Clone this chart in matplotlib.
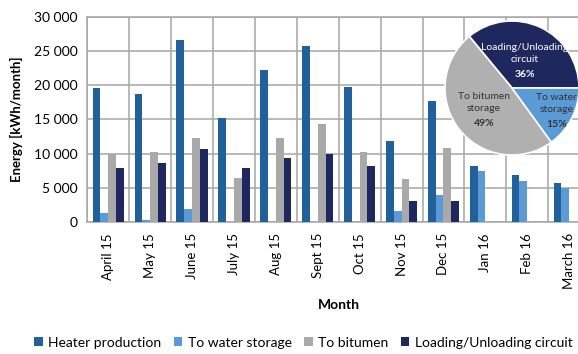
import numpy as np
import matplotlib
matplotlib.use("Agg")
import matplotlib.pyplot as plt
from matplotlib.ticker import FuncFormatter

plt.rcParams['font.family'] = ['Lato', 'DejaVu Sans']

meses = ['April 15', 'May 15', 'June 15', 'July 15', 'Aug 15', 'Sept 15',
         'Oct 15', 'Nov 15', 'Dec 15', 'Jan 16', 'Feb 16', 'March 16']

heater = [19600, 18800, 26600, 15200, 22250, 25770, 19700, 11800, 17700, 8250, 6800, 5700]
water = [1300, 300, 1850, 0, 0, 0, 0, 1650, 3950, 7400, 6000, 4900]
bitumen = [10000, 10200, 12250, 6500, 12350, 14300, 10300, 6350, 10800, 0, 0, 0]
loading = [7900, 8600, 10650, 7950, 9300, 9900, 8250, 3000, 3000, 0, 0, 0]

series = ['Heater production', 'To water storage', 'To bitumen', 'Loading/Unloading circuit']
colores = ['#22609b', '#5b9bd5', '#a9a9a9', '#1e275e']

# Reparto anual (pie)
pie_labels = ['Loading/Unloading\ncircuit', 'To bitumen\nstorage', 'To water\nstorage']
pie_pct = [36, 49, 15]
pie_colores = ['#1e275e', '#b0b0b0', '#5b9bd5']

fig = plt.figure(figsize=(5.78, 3.54), dpi=100)
ax = fig.add_axes([0.151, 0.373, 0.870, 0.579])

x = np.arange(len(meses))
w = 0.186
for i, (datos, nombre, c) in enumerate(zip([heater, water, bitumen, loading], series, colores)):
    ax.bar(x + (i - 1.5) * w, datos, w, color=c, label=nombre, zorder=3)

ax.set_xlim(-0.5, len(meses) - 0.5)
ax.set_ylim(0, 30000)
ax.set_yticks(np.arange(0, 30001, 5000))
ax.yaxis.set_major_formatter(FuncFormatter(lambda v, p: f'{int(v):,}'.replace(',', ' ')))
ax.set_xticks(x)
ax.set_xticklabels(meses, rotation=90, fontsize=9.5)
ax.set_xticks(np.arange(-0.5, len(meses), 1), minor=True)
ax.tick_params(axis='y', labelsize=10, length=0, pad=7)
ax.tick_params(axis='x', which='both', length=0, pad=8)
ax.grid(axis='y', color='#a6a6a6', lw=1.1, zorder=0)
ax.grid(axis='x', which='minor', color='#a6a6a6', lw=1.1, zorder=0)
for s in ax.spines.values():
    s.set_color('#a6a6a6')
    s.set_linewidth(1.1)

ax.set_ylabel('Energy [kWh/month]', fontsize=9.5, fontweight='bold', labelpad=8)
ax.set_xlabel('Month', fontsize=10, fontweight='bold', labelpad=7)

fig.legend(loc='center', bbox_to_anchor=(0.525, 0.032), ncol=4, frameon=False,
           fontsize=10, handlelength=0.6, handleheight=0.6, handletextpad=0.4,
           columnspacing=0.9)

# Pie insertado arriba a la derecha
axp = fig.add_axes([445 / 578, 1 - 155 / 354, 134 / 578, 134 / 354])
cunas, _ = axp.pie(pie_pct, colors=pie_colores, startangle=0, counterclock=True,
                   wedgeprops=dict(edgecolor='white', linewidth=1.2))
distancias = [0.45, 0.53, 0.74]
colores_txt = ['white', '#333333', '#333333']
for cuna, lab, pct, d, ct in zip(cunas, pie_labels, pie_pct, distancias, colores_txt):
    ang = np.deg2rad((cuna.theta1 + cuna.theta2) / 2)
    px, py = d * np.cos(ang), d * np.sin(ang)
    axp.text(px, py + 0.105, lab, ha='center', va='center', multialignment='center',
             fontsize=7.5, color=ct, linespacing=1.5)
    axp.text(px, py - 0.21, f'{pct}%', ha='center', va='center', fontsize=7.5,
             color=ct, fontweight='bold')
axp.set_xlim(-1, 1)
axp.set_ylim(-1, 1)

fig.savefig('out.png', dpi=100)
